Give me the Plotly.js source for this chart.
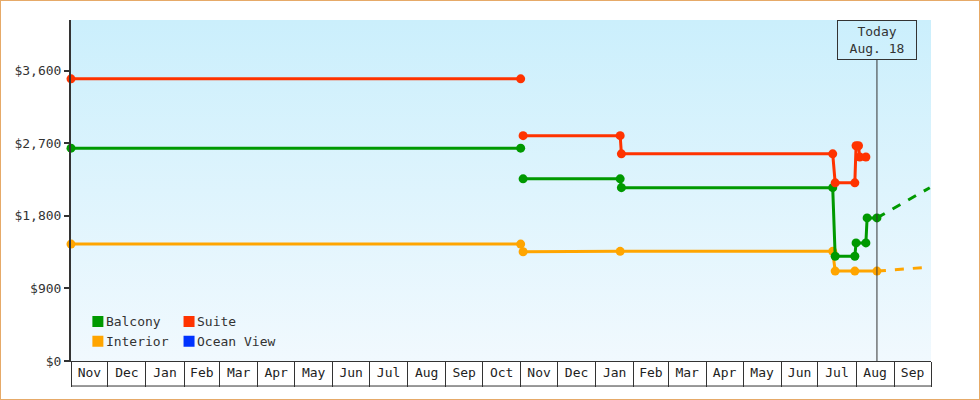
<!DOCTYPE html>
<html>
<head>
<meta charset="utf-8">
<script src="https://cdn.plot.ly/plotly-3.0.1.min.js"></script>
<style>
  body { margin: 0; background: #fff; }
  #wrap { position: relative; width: 980px; height: 400px; }
  #bg { position: absolute; left: 71px; top: 20px; width: 860px; height: 341px;
        background: linear-gradient(#cbeffc, #f1f9fe); }
  #chart { position: absolute; left: 0; top: 0; width: 980px; height: 400px; }
  #frame { position: absolute; left: 0; top: 0; width: 978px; height: 398px;
           border: 1px solid #e6aa68; pointer-events: none; }
  /* legend text sits right next to the swatch */
  #chart .legendtext, #chart .legend2text { transform: translateX(-12px); }
</style>
</head>
<body>
<div id="wrap">
  <div id="bg"></div>
  <div id="chart"></div>
  <div id="frame"></div>
</div>
<script>
// price history, null = gap between sailings
var balconyDates = ['2023-11-01', '2024-11-01', null, '2024-11-03', '2025-01-21', '2025-01-22', '2025-07-13', '2025-07-15', '2025-07-31', '2025-08-01', '2025-08-09', '2025-08-10', '2025-08-18'];
var balconyPrices = [2640, 2640, null, 2260, 2260, 2150, 2150, 1300, 1300, 1465, 1465, 1775, 1775];

var suiteDates = ['2023-11-01', '2024-11-01', null, '2024-11-03', '2025-01-21', '2025-01-22', '2025-07-13', '2025-07-15', '2025-07-31', '2025-08-01', '2025-08-03', '2025-08-04', '2025-08-09'];
var suitePrices = [3500, 3500, null, 2795, 2795, 2570, 2570, 2210, 2210, 2670, 2670, 2530, 2530];

var interiorDates = ['2023-11-01', '2024-11-01', null, '2024-11-03', '2025-01-21', '2025-07-13', '2025-07-15', '2025-07-31', '2025-08-18'];
var interiorPrices = [1450, 1450, null, 1355, 1360, 1360, 1115, 1115, 1115];

// projections past today
var forecastDates = ['2025-08-18', '2025-09-30'];
var balconyForecast = [1775, 2150];
var interiorForecast = [1115, 1165];

var seriesNames = ['Balcony', 'Interior', 'Suite', 'Ocean View'];
var seriesColors = ['#009900', '#ffa500', '#ff3300', '#0033ff'];

var today = '2025-08-18';
var todayLabel = 'Today<br>Aug. 18';

function priceLine(x, y, color) {
  return {
    x: x, y: y, type: 'scatter', mode: 'lines+markers',
    line: {color: color, width: 3},
    marker: {color: color, size: 9},
    cliponaxis: false, showlegend: false, hoverinfo: 'skip'
  };
}

function forecastLine(x, y, color) {
  return {
    x: x, y: y, type: 'scatter', mode: 'lines',
    line: {color: color, width: 3, dash: 'dash'},
    showlegend: false, hoverinfo: 'skip'
  };
}

var data = [
  forecastLine(forecastDates, balconyForecast, seriesColors[0]),
  forecastLine(forecastDates, interiorForecast, seriesColors[1]),
  priceLine(interiorDates, interiorPrices, seriesColors[1]),
  priceLine(balconyDates, balconyPrices, seriesColors[0]),
  priceLine(suiteDates, suitePrices, seriesColors[2])
];

// legend swatches: first column in legend, second in legend2
seriesNames.forEach(function(name, i) {
  data.push({
    x: [null], y: [null], type: 'scatter', mode: 'markers', name: name,
    marker: {color: seriesColors[i], symbol: 'square', size: 11},
    legend: i < 2 ? 'legend' : 'legend2', showlegend: true
  });
});

var legendBase = {
  bgcolor: 'rgba(0,0,0,0)', yanchor: 'top', y: 0.16,
  font: {family: 'DejaVu Sans Mono', size: 13, color: '#333'},
  itemwidth: 30, tracegroupgap: 0
};

var layout = {
  width: 980, height: 400,
  margin: {l: 71, r: 49, t: 20, b: 39},
  paper_bgcolor: 'rgba(0,0,0,0)',
  plot_bgcolor: 'rgba(0,0,0,0)',
  font: {family: 'DejaVu Sans Mono', size: 13, color: '#333'},
  xaxis: {
    type: 'date',
    range: ['2023-11-01', '2025-10-01'],
    tick0: '2023-11-01', dtick: 'M1',
    tickformat: '%b', ticklabelmode: 'period',
    ticks: 'outside', ticklen: 25, tickwidth: 1, tickcolor: '#333',
    ticklabelstandoff: -26,
    showline: true, linecolor: '#333', linewidth: 1,
    showgrid: false, zeroline: false,
    tickfont: {color: '#222'}
  },
  yaxis: {
    range: [0, 4230], dtick: 900,
    tickprefix: '$', tickformat: ',d',
    ticks: 'outside', ticklen: 5, tickwidth: 2, tickcolor: '#333',
    showline: true, linecolor: '#333', linewidth: 2,
    showgrid: false, zeroline: false
  },
  legend: Object.assign({x: 0.008, xanchor: 'left'}, legendBase),
  legend2: Object.assign({x: 0.114, xanchor: 'left'}, legendBase),
  shapes: [
    {type: 'line', xref: 'x', yref: 'paper', x0: today, x1: today, y0: 0, y1: 0.883,
     line: {color: '#333', width: 1}},
    {type: 'line', xref: 'paper', yref: 'paper', x0: 0, x1: 1, y0: -0.0734, y1: -0.0734,
     line: {color: '#333', width: 1}}
  ],
  annotations: [{
    x: today, xref: 'x', xanchor: 'center',
    y: 1, yref: 'paper', yanchor: 'top',
    text: todayLabel, showarrow: false, align: 'center',
    width: 76, height: 36, borderpad: 1,
    bordercolor: '#333', borderwidth: 1,
    font: {family: 'DejaVu Sans Mono', size: 13, color: '#333'}
  }]
};

Plotly.newPlot('chart', data, layout, {displayModeBar: false, staticPlot: true});
</script>
</body>
</html>
